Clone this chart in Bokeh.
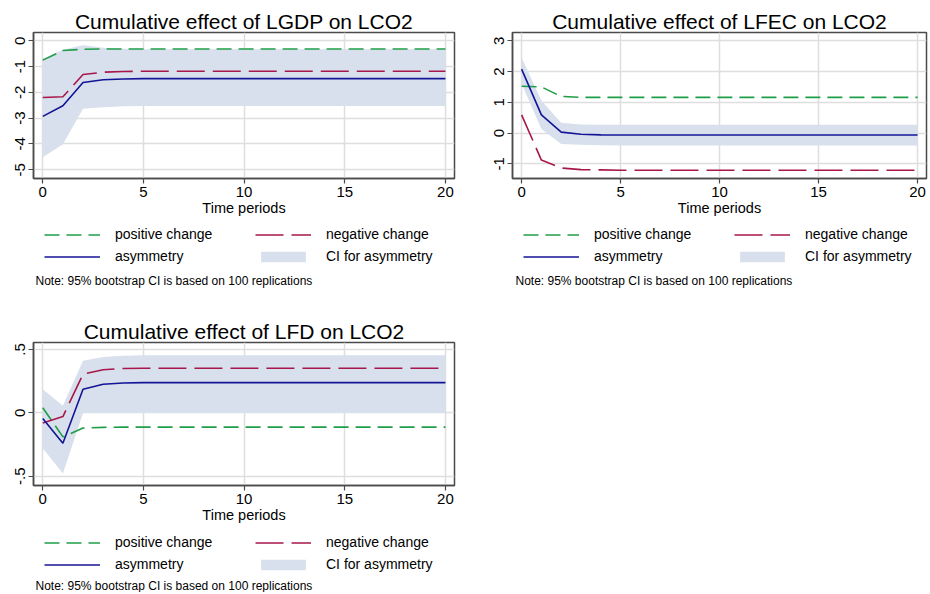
from bokeh.plotting import figure
from bokeh.models import Legend, LegendItem, FixedTicker, Range1d, ColumnDataSource, Label
from bokeh.layouts import column, row
from bokeh.embed import file_html
from bokeh.resources import INLINE

FONT = "Liberation Sans"

periods = [0, 1, 2, 3, 4, 5, 6, 7, 8, 9, 10, 11, 12, 13, 14, 15, 16, 17, 18, 19, 20]
x_ticks = [0, 5, 10, 15, 20]

# LGDP
lgdp_pos = [-0.75, -0.38, -0.33, -0.32, -0.32, -0.32, -0.32, -0.32, -0.32, -0.32, -0.32,
            -0.32, -0.32, -0.32, -0.32, -0.32, -0.32, -0.32, -0.32, -0.32, -0.32]
lgdp_neg = [-2.20, -2.17, -1.31, -1.22, -1.19, -1.18, -1.18, -1.18, -1.18, -1.18, -1.18,
            -1.18, -1.18, -1.18, -1.18, -1.18, -1.18, -1.18, -1.18, -1.18, -1.18]
lgdp_asym = [-2.93, -2.52, -1.62, -1.51, -1.48, -1.47, -1.47, -1.47, -1.47, -1.47, -1.47,
             -1.47, -1.47, -1.47, -1.47, -1.47, -1.47, -1.47, -1.47, -1.47, -1.47]
lgdp_hi = [-0.70, -0.35, -0.17, -0.27, -0.31, -0.33, -0.33, -0.33, -0.33, -0.33, -0.33,
           -0.33, -0.33, -0.33, -0.33, -0.33, -0.33, -0.33, -0.33, -0.33, -0.33]
lgdp_lo = [-4.52, -4.01, -2.64, -2.58, -2.54, -2.53, -2.53, -2.53, -2.53, -2.53, -2.53,
           -2.53, -2.53, -2.53, -2.53, -2.53, -2.53, -2.53, -2.53, -2.53, -2.53]
lgdp_yticks = [0, -1, -2, -3, -4, -5]
lgdp_ylabels = ["0", "-1", "-2", "-3", "-4", "-5"]

# LFEC
lfec_pos = [1.52, 1.50, 1.19, 1.16, 1.16, 1.16, 1.16, 1.16, 1.16, 1.16, 1.16,
            1.16, 1.16, 1.16, 1.16, 1.16, 1.16, 1.16, 1.16, 1.16, 1.16]
lfec_neg = [0.59, -0.88, -1.14, -1.19, -1.20, -1.21, -1.21, -1.21, -1.21, -1.21, -1.21,
            -1.21, -1.21, -1.21, -1.21, -1.21, -1.21, -1.21, -1.21, -1.21, -1.21]
lfec_asym = [2.08, 0.59, 0.03, -0.04, -0.06, -0.066, -0.066, -0.066, -0.066, -0.066, -0.066,
             -0.066, -0.066, -0.066, -0.066, -0.066, -0.066, -0.066, -0.066, -0.066, -0.066]
lfec_hi = [2.46, 1.05, 0.33, 0.28, 0.27, 0.27, 0.27, 0.27, 0.27, 0.27, 0.27,
           0.27, 0.27, 0.27, 0.27, 0.27, 0.27, 0.27, 0.27, 0.27, 0.27]
lfec_lo = [1.60, 0.13, -0.36, -0.38, -0.40, -0.41, -0.41, -0.41, -0.41, -0.41, -0.41,
           -0.41, -0.41, -0.41, -0.41, -0.41, -0.41, -0.41, -0.41, -0.41, -0.41]
lfec_yticks = [3, 2, 1, 0, -1]
lfec_ylabels = ["3", "2", "1", "0", "-1"]

# LFD
lfd_pos = [0.04, -0.19, -0.12, -0.115, -0.113, -0.113, -0.113, -0.113, -0.113, -0.113, -0.113,
           -0.113, -0.113, -0.113, -0.113, -0.113, -0.113, -0.113, -0.113, -0.113, -0.113]
lfd_neg = [-0.08, -0.03, 0.305, 0.34, 0.35, 0.352, 0.352, 0.352, 0.352, 0.352, 0.352,
           0.352, 0.352, 0.352, 0.352, 0.352, 0.352, 0.352, 0.352, 0.352, 0.352]
lfd_asym = [-0.045, -0.24, 0.186, 0.225, 0.235, 0.238, 0.238, 0.238, 0.238, 0.238, 0.238,
            0.238, 0.238, 0.238, 0.238, 0.238, 0.238, 0.238, 0.238, 0.238, 0.238]
lfd_hi = [0.185, 0.055, 0.41, 0.44, 0.45, 0.455, 0.455, 0.455, 0.455, 0.455, 0.455,
          0.455, 0.455, 0.455, 0.455, 0.455, 0.455, 0.455, 0.455, 0.455, 0.455]
lfd_lo = [-0.28, -0.48, -0.002, -0.002, -0.002, -0.002, -0.002, -0.002, -0.002, -0.002, -0.002,
          -0.002, -0.002, -0.002, -0.002, -0.002, -0.002, -0.002, -0.002, -0.002, -0.002]
lfd_yticks = [0.5, 0, -0.5]
lfd_ylabels = [".5", "0", "-.5"]

legend_labels = ["positive change", "negative change", "asymmetry", "CI for asymmetry"]
note_text = "Note: 95% bootstrap CI is based on 100 replications"

C_POS = "#1f9e48"
C_NEG = "#a8174c"
C_ASYM = "#141496"
C_BAND = "#d7e0ec"
C_AXIS = "#4a4a4a"
C_GRID = "#dedede"
DASH_POS = "15 7"
DASH_NEG = "28 8"
LW = 1.6


def add_series(p, src):
    r_band = p.varea(x="t", y1="lo", y2="hi", source=src, fill_color=C_BAND, fill_alpha=1)
    r_pos = p.line("t", "pos", source=src, line_color=C_POS, line_width=LW, line_dash=DASH_POS)
    r_neg = p.line("t", "neg", source=src, line_color=C_NEG, line_width=LW, line_dash=DASH_NEG)
    r_asym = p.line("t", "asym", source=src, line_color=C_ASYM, line_width=LW)
    return r_pos, r_neg, r_asym, r_band


def plot_fig(title, src, ylim, yticks, ylabels, frame_w, frame_h, bl, br, bt, bb):
    p = figure(frame_width=frame_w, frame_height=frame_h, x_range=Range1d(-0.46, 20.45),
               y_range=Range1d(ylim[0], ylim[1]), output_backend="svg",
               toolbar_location=None, min_border_left=bl, min_border_right=br,
               min_border_top=bt, min_border_bottom=bb)
    p.background_fill_color = "white"
    p.border_fill_color = "white"
    p.outline_line_color = C_AXIS
    p.outline_line_width = 1.5

    p.title.text = title
    p.title.text_font = FONT
    p.title.text_font_size = "21px"
    p.title.text_font_style = "normal"
    p.title.align = "center"
    p.title.text_color = "black"
    p.title.standoff = 0

    add_series(p, src)

    p.xaxis.ticker = FixedTicker(ticks=x_ticks)
    p.yaxis.ticker = FixedTicker(ticks=yticks)
    p.xgrid.ticker = FixedTicker(ticks=x_ticks)
    p.ygrid.ticker = FixedTicker(ticks=yticks)
    p.grid.grid_line_color = C_GRID
    p.grid.grid_line_width = 1.5
    p.yaxis.major_label_overrides = {t: s for t, s in zip(yticks, ylabels)}
    p.yaxis.major_label_orientation = "vertical"
    for ax in (p.xaxis[0], p.yaxis[0]):
        ax.axis_line_color = C_AXIS
        ax.axis_line_width = 1.5
        ax.major_tick_line_color = C_AXIS
        ax.major_tick_line_width = 1.2
        ax.major_tick_out = 5
        ax.major_tick_in = 0
        ax.minor_tick_line_color = None
        ax.major_label_text_font = FONT
        ax.major_label_text_font_size = "15px"
        ax.major_label_text_color = "black"
        ax.major_label_standoff = 3
    p.xaxis.axis_label = "Time periods"
    p.xaxis.axis_label_text_font = FONT
    p.xaxis.axis_label_text_font_size = "14.5px"
    p.xaxis.axis_label_text_font_style = "normal"
    p.xaxis.axis_label_text_color = "black"
    p.xaxis.axis_label_standoff = 0
    return p


def legend_fig(src, width, height, leg_x, leg_y, note_x, note_y):
    q = figure(width=width, height=height, x_range=Range1d(0, 1), y_range=Range1d(0, 1),
               x_axis_type=None, y_axis_type=None, output_backend="svg",
               toolbar_location=None, min_border=0)
    q.outline_line_color = None
    q.background_fill_color = "white"
    q.border_fill_color = "white"
    q.grid.visible = False
    # key renderers (hidden): only their legend samples are drawn
    r_pos, r_neg, r_asym, r_band = add_series(q, src)
    for r in (r_pos, r_neg, r_asym, r_band):
        r.visible = False
    # legend fills column by column: (positive, asymmetry) | (negative, CI)
    items = [LegendItem(label=legend_labels[0], renderers=[r_pos]),
             LegendItem(label=legend_labels[2], renderers=[r_asym]),
             LegendItem(label=legend_labels[1], renderers=[r_neg]),
             LegendItem(label=legend_labels[3], renderers=[r_band])]
    leg = Legend(items=items, ncols=2, location=(leg_x, leg_y))
    leg.label_text_font = FONT
    leg.label_text_font_size = "14px"
    leg.label_text_color = "black"
    leg.glyph_width = 56
    leg.glyph_height = 13
    leg.label_height = 18
    leg.label_standoff = 15
    leg.label_width = 136
    leg.spacing = 4
    leg.padding = 0
    leg.margin = 0
    leg.border_line_alpha = 0
    leg.background_fill_alpha = 0
    leg.inactive_fill_alpha = 0
    q.add_layout(leg, "center")
    note = Label(x=note_x, y=note_y, x_units="screen", y_units="screen", text=note_text,
                 text_font=FONT, text_font_size="12px", text_color="black",
                 text_baseline="middle", text_align="left")
    q.add_layout(note)
    return q


s1 = ColumnDataSource(dict(t=periods, pos=lgdp_pos, neg=lgdp_neg, asym=lgdp_asym, lo=lgdp_lo, hi=lgdp_hi))
s2 = ColumnDataSource(dict(t=periods, pos=lfec_pos, neg=lfec_neg, asym=lfec_asym, lo=lfec_lo, hi=lfec_hi))
s3 = ColumnDataSource(dict(t=periods, pos=lfd_pos, neg=lfd_neg, asym=lfd_asym, lo=lfd_lo, hi=lfd_hi))

p1 = plot_fig("Cumulative effect of LGDP on LCO2", s1, (-5.34, 0.32), lgdp_yticks, lgdp_ylabels,
              421, 146, 33, 11, 32, 44)
p2 = plot_fig("Cumulative effect of LFEC on LCO2", s2, (-1.48, 3.27), lfec_yticks, lfec_ylabels,
              414, 146, 47, 4, 32, 44)
p3 = plot_fig("Cumulative effect of LFD on LCO2", s3, (-0.574, 0.555), lfd_yticks, lfd_ylabels,
              421, 143, 33, 11, 36, 44)

l1 = legend_fig(s1, 465, 84, 11, 41, 2, 26)
l2 = legend_fig(s2, 465, 84, 11, 41, 3, 26)
l3 = legend_fig(s3, 465, 63, 11, 19, 2, 7)

layout = column(row(column(p1, l1), column(p2, l2)), row(column(p3, l3)))
open("out.html", "w").write(file_html(layout, INLINE))
